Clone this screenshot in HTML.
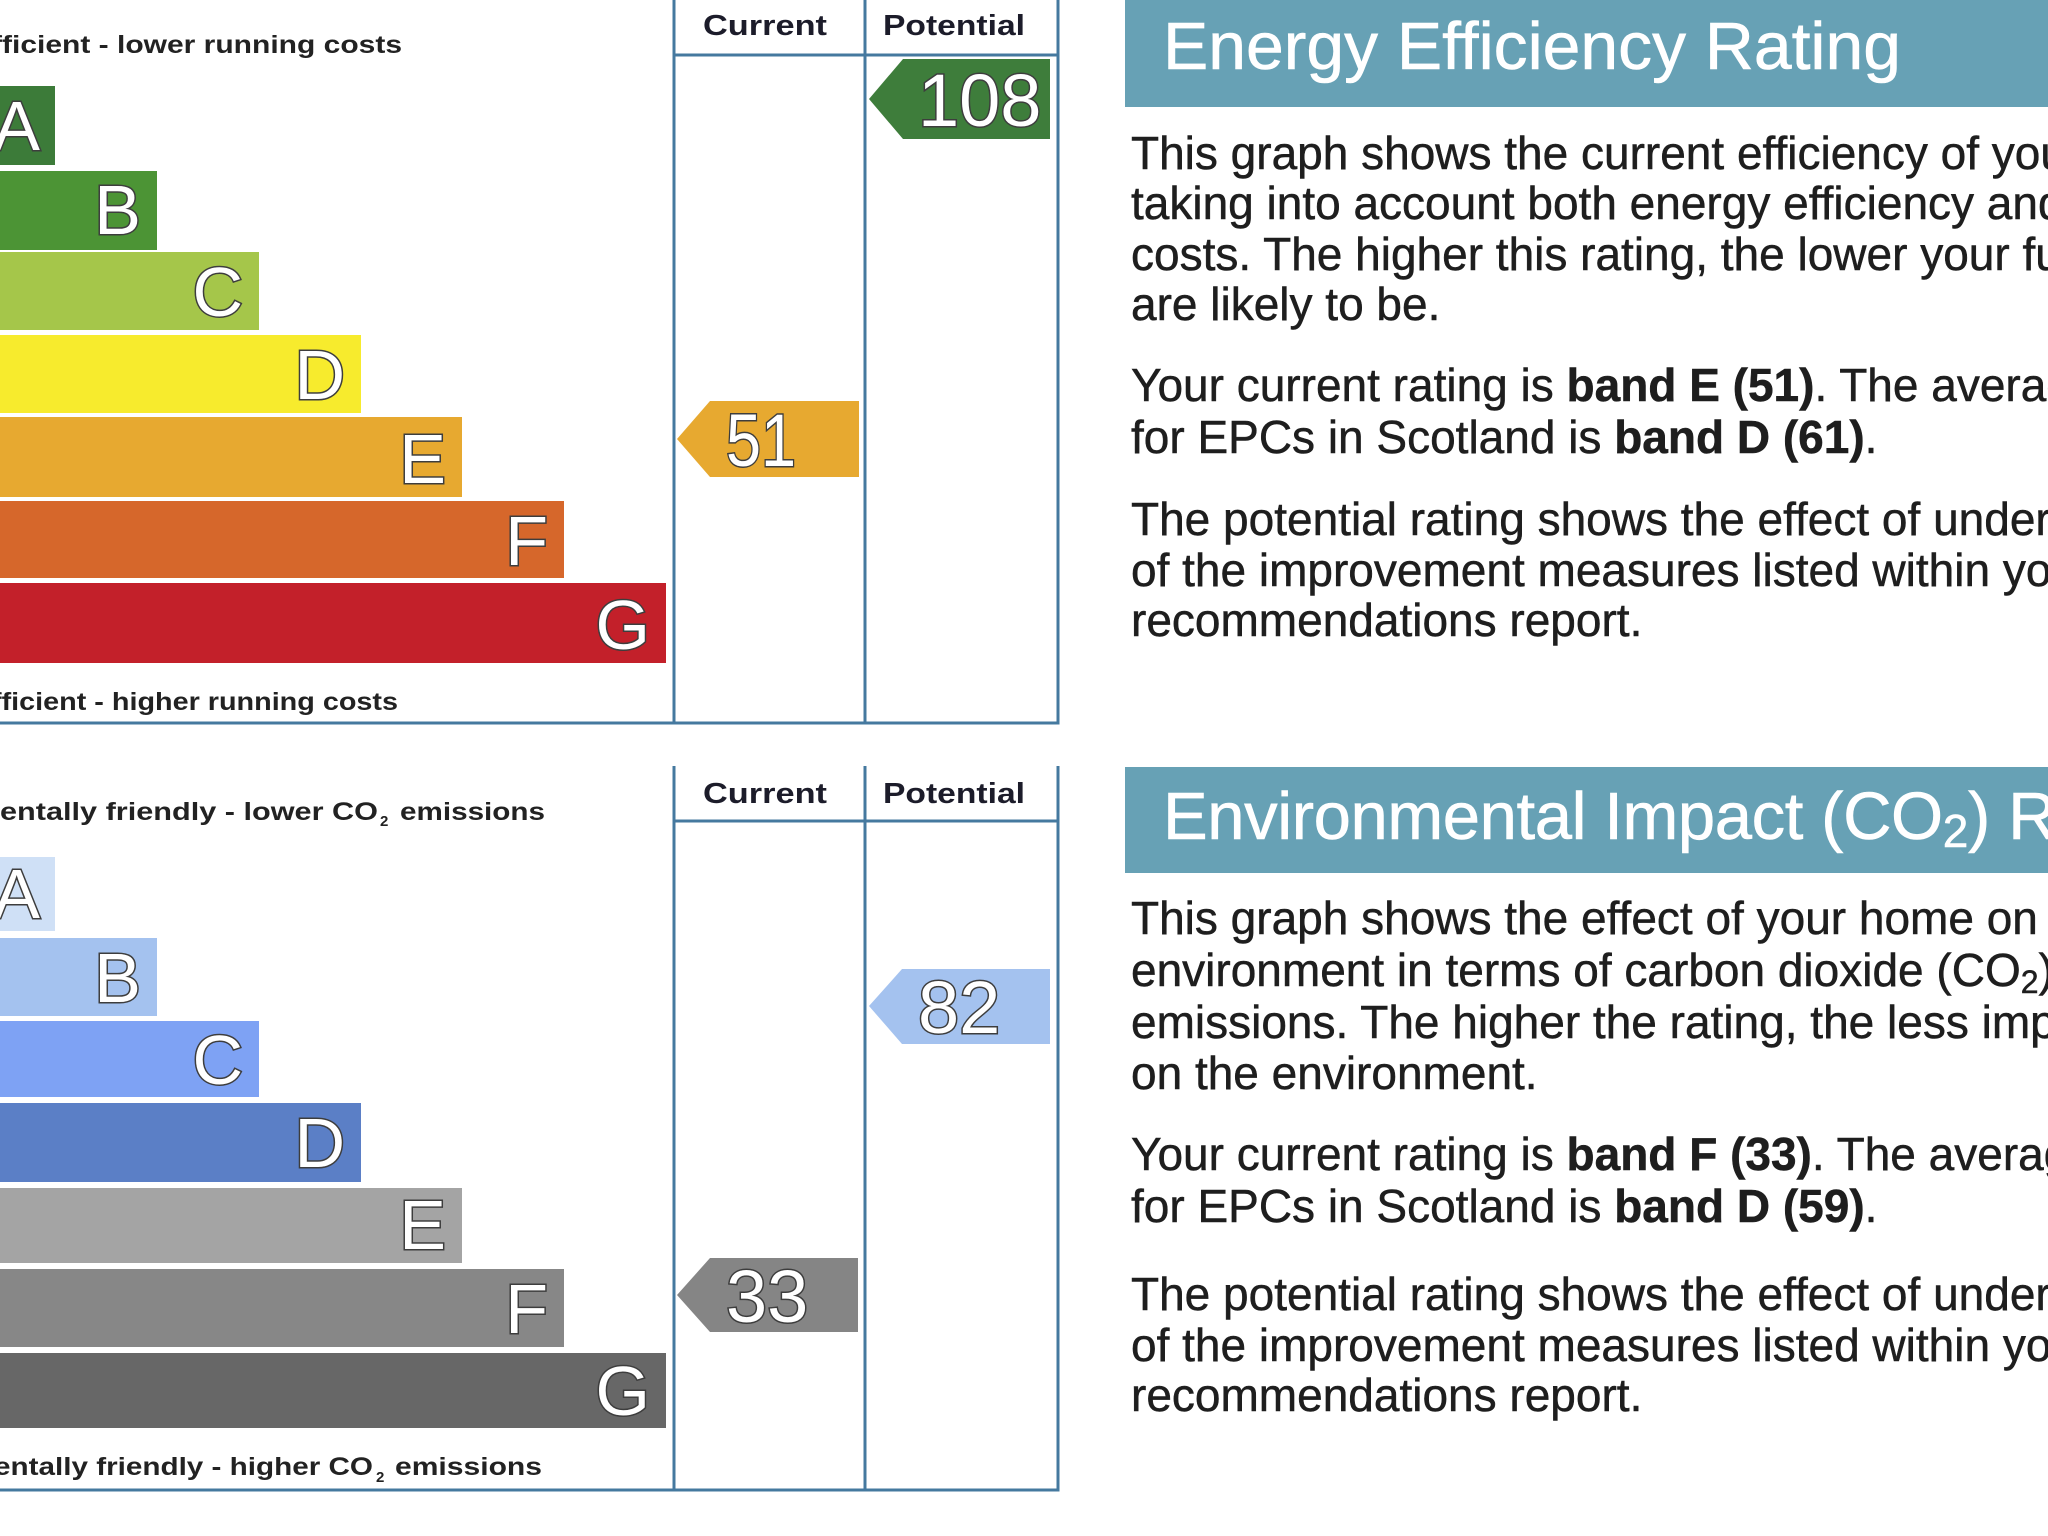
<!DOCTYPE html>
<html>
<head>
<meta charset="utf-8">
<style>
  html,body{margin:0;padding:0;background:#ffffff;}
  svg{display:block;}
  .lbl{font-family:"Liberation Sans",Arial,sans-serif;font-weight:bold;fill:#222;}
  .hdr{font-family:"Liberation Sans",Arial,sans-serif;font-weight:bold;fill:#1c1c2a;}
  .let{font-family:"Liberation Sans",Arial,sans-serif;fill:#ffffff;stroke:#3d3d3d;stroke-width:3;paint-order:stroke fill;}
  .par{font-family:"Liberation Sans",Arial,sans-serif;font-size:46px;fill:#1e1e1e;stroke:#1e1e1e;stroke-width:0.5;}
  .par .b{font-weight:bold;}
  .ttl{font-family:"Liberation Sans",Arial,sans-serif;font-size:67px;fill:#ffffff;stroke:#ffffff;stroke-width:0.6;}
</style>
</head>
<body>
<svg width="2048" height="1536" viewBox="0 0 2048 1536" xmlns="http://www.w3.org/2000/svg">
  <rect x="0" y="0" width="2048" height="1536" fill="#ffffff"/>

  <!-- ================= TOP CHART (Energy Efficiency) ================= -->
  <text class="lbl" x="-8" y="53" font-size="25" textLength="410" lengthAdjust="spacingAndGlyphs">fficient - lower running costs</text>

  <rect x="0" y="86"    width="55"  height="79" fill="#3c7b39"/>
  <rect x="0" y="171"   width="157" height="79" fill="#4c9435"/>
  <rect x="0" y="252"   width="259" height="78" fill="#a5c64a"/>
  <rect x="0" y="335"   width="361" height="78" fill="#f7eb2d"/>
  <rect x="0" y="417"   width="462" height="80" fill="#e7a930"/>
  <rect x="0" y="501"   width="564" height="77" fill="#d6672b"/>
  <rect x="0" y="583"   width="666" height="80" fill="#c3202a"/>

  <text class="let" x="40"  y="150" font-size="70" text-anchor="end">A</text>
  <text class="let" x="141" y="234" font-size="70" text-anchor="end">B</text>
  <text class="let" x="243" y="316" font-size="70" text-anchor="end">C</text>
  <text class="let" x="345" y="399" font-size="70" text-anchor="end">D</text>
  <text class="let" x="446" y="483" font-size="70" text-anchor="end">E</text>
  <text class="let" x="548" y="565" font-size="70" text-anchor="end">F</text>
  <text class="let" x="650" y="649" font-size="70" text-anchor="end">G</text>

  <text class="lbl" x="-8" y="710" font-size="25" textLength="406" lengthAdjust="spacingAndGlyphs">fficient - higher running costs</text>

  <g stroke="#45799f" stroke-width="3" fill="none">
    <line x1="674" y1="-2" x2="674" y2="723"/>
    <line x1="865" y1="-2" x2="865" y2="723"/>
    <line x1="1058" y1="-2" x2="1058" y2="723"/>
    <line x1="674" y1="55" x2="1058" y2="55"/>
    <line x1="0" y1="723" x2="1059.5" y2="723"/>
  </g>
  <text class="hdr" x="703" y="35" font-size="29" textLength="124" lengthAdjust="spacingAndGlyphs">Current</text>
  <text class="hdr" x="883" y="35" font-size="29" textLength="142" lengthAdjust="spacingAndGlyphs">Potential</text>

  <polygon points="869,99 903,59 1050,59 1050,139 903,139" fill="#3e7d3b"/>
  <text class="let" x="918" y="126" font-size="74">108</text>
  <polygon points="677,439 710,401 859,401 859,477 710,477" fill="#e7a930"/>
  <text class="let" x="726" y="466" font-size="74" textLength="70" lengthAdjust="spacingAndGlyphs">51</text>

  <!-- ================= BOTTOM CHART (Environmental) ================= -->
  <text class="lbl" x="0" y="820" font-size="25" textLength="378" lengthAdjust="spacingAndGlyphs">entally friendly - lower CO</text>
  <text class="lbl" x="380" y="826" font-size="15">2</text>
  <text class="lbl" x="400" y="820" font-size="25" textLength="145" lengthAdjust="spacingAndGlyphs">emissions</text>

  <rect x="0" y="857"  width="55"  height="74" fill="#cfe0f6"/>
  <rect x="0" y="938"  width="157" height="78" fill="#a4c2ef"/>
  <rect x="0" y="1021" width="259" height="76" fill="#7ea2f4"/>
  <rect x="0" y="1103" width="361" height="79" fill="#5b7fc6"/>
  <rect x="0" y="1188" width="462" height="75" fill="#a4a4a4"/>
  <rect x="0" y="1269" width="564" height="78" fill="#878787"/>
  <rect x="0" y="1353" width="666" height="75" fill="#676767"/>

  <text class="let" x="40"  y="918"  font-size="70" text-anchor="end">A</text>
  <text class="let" x="141" y="1002" font-size="70" text-anchor="end">B</text>
  <text class="let" x="243" y="1084" font-size="70" text-anchor="end">C</text>
  <text class="let" x="345" y="1167" font-size="70" text-anchor="end">D</text>
  <text class="let" x="446" y="1249" font-size="70" text-anchor="end">E</text>
  <text class="let" x="548" y="1333" font-size="70" text-anchor="end">F</text>
  <text class="let" x="650" y="1415" font-size="70" text-anchor="end">G</text>

  <text class="lbl" x="-6" y="1475" font-size="25" textLength="379" lengthAdjust="spacingAndGlyphs">entally friendly - higher CO</text>
  <text class="lbl" x="376" y="1482" font-size="15">2</text>
  <text class="lbl" x="395" y="1475" font-size="25" textLength="147" lengthAdjust="spacingAndGlyphs">emissions</text>

  <g stroke="#45799f" stroke-width="3" fill="none">
    <line x1="674" y1="766" x2="674" y2="1490"/>
    <line x1="865" y1="766" x2="865" y2="1490"/>
    <line x1="1058" y1="766" x2="1058" y2="1490"/>
    <line x1="674" y1="821" x2="1058" y2="821"/>
    <line x1="0" y1="1490" x2="1059.5" y2="1490"/>
  </g>
  <text class="hdr" x="703" y="803" font-size="29" textLength="124" lengthAdjust="spacingAndGlyphs">Current</text>
  <text class="hdr" x="883" y="803" font-size="29" textLength="142" lengthAdjust="spacingAndGlyphs">Potential</text>

  <polygon points="869,1006 902,969 1050,969 1050,1044 902,1044" fill="#a4c2ef"/>
  <text class="let" x="918" y="1033" font-size="74">82</text>
  <polygon points="677,1295 710,1258 858,1258 858,1332 710,1332" fill="#858585"/>
  <text class="let" x="726" y="1322" font-size="74">33</text>

  <!-- ================= RIGHT TEXT: Energy ================= -->
  <rect x="1125" y="-5" width="930" height="112" fill="#67a1b5"/>
  <text class="ttl" x="1163" y="69" textLength="738" lengthAdjust="spacingAndGlyphs">Energy Efficiency Rating</text>

  <text class="par" x="1131" y="169">This graph shows the current efficiency of your home,</text>
  <text class="par" x="1131" y="219">taking into account both energy efficiency and fuel</text>
  <text class="par" x="1131" y="270">costs. The higher this rating, the lower your fuel bills</text>
  <text class="par" x="1131" y="320">are likely to be.</text>

  <text class="par" x="1131" y="401">Your current rating is <tspan class="b">band E (51)</tspan>. The average rating</text>
  <text class="par" x="1131" y="453">for EPCs in Scotland is <tspan class="b">band D (61)</tspan>.</text>

  <text class="par" x="1131" y="535">The potential rating shows the effect of undertaking all</text>
  <text class="par" x="1131" y="586">of the improvement measures listed within your</text>
  <text class="par" x="1131" y="636">recommendations report.</text>

  <!-- ================= RIGHT TEXT: Environmental ================= -->
  <rect x="1125" y="767" width="930" height="106" fill="#67a1b5"/>
  <text class="ttl" x="1163" y="839" font-size="66" letter-spacing="-0.4">Environmental Impact (CO<tspan font-size="46" dy="8">2</tspan><tspan dy="-8">) Rating</tspan></text>

  <text class="par" x="1131" y="934">This graph shows the effect of your home on the</text>
  <text class="par" x="1131" y="986">environment in terms of carbon dioxide (CO<tspan font-size="32" dy="7">2</tspan><tspan dy="-7">)</tspan></text>
  <text class="par" x="1131" y="1038">emissions. The higher the rating, the less impact it has</text>
  <text class="par" x="1131" y="1089">on the environment.</text>

  <text class="par" x="1131" y="1170">Your current rating is <tspan class="b">band F (33)</tspan>. The average rating</text>
  <text class="par" x="1131" y="1222">for EPCs in Scotland is <tspan class="b">band D (59)</tspan>.</text>

  <text class="par" x="1131" y="1310">The potential rating shows the effect of undertaking all</text>
  <text class="par" x="1131" y="1361">of the improvement measures listed within your</text>
  <text class="par" x="1131" y="1411">recommendations report.</text>
</svg>
</body>
</html>
